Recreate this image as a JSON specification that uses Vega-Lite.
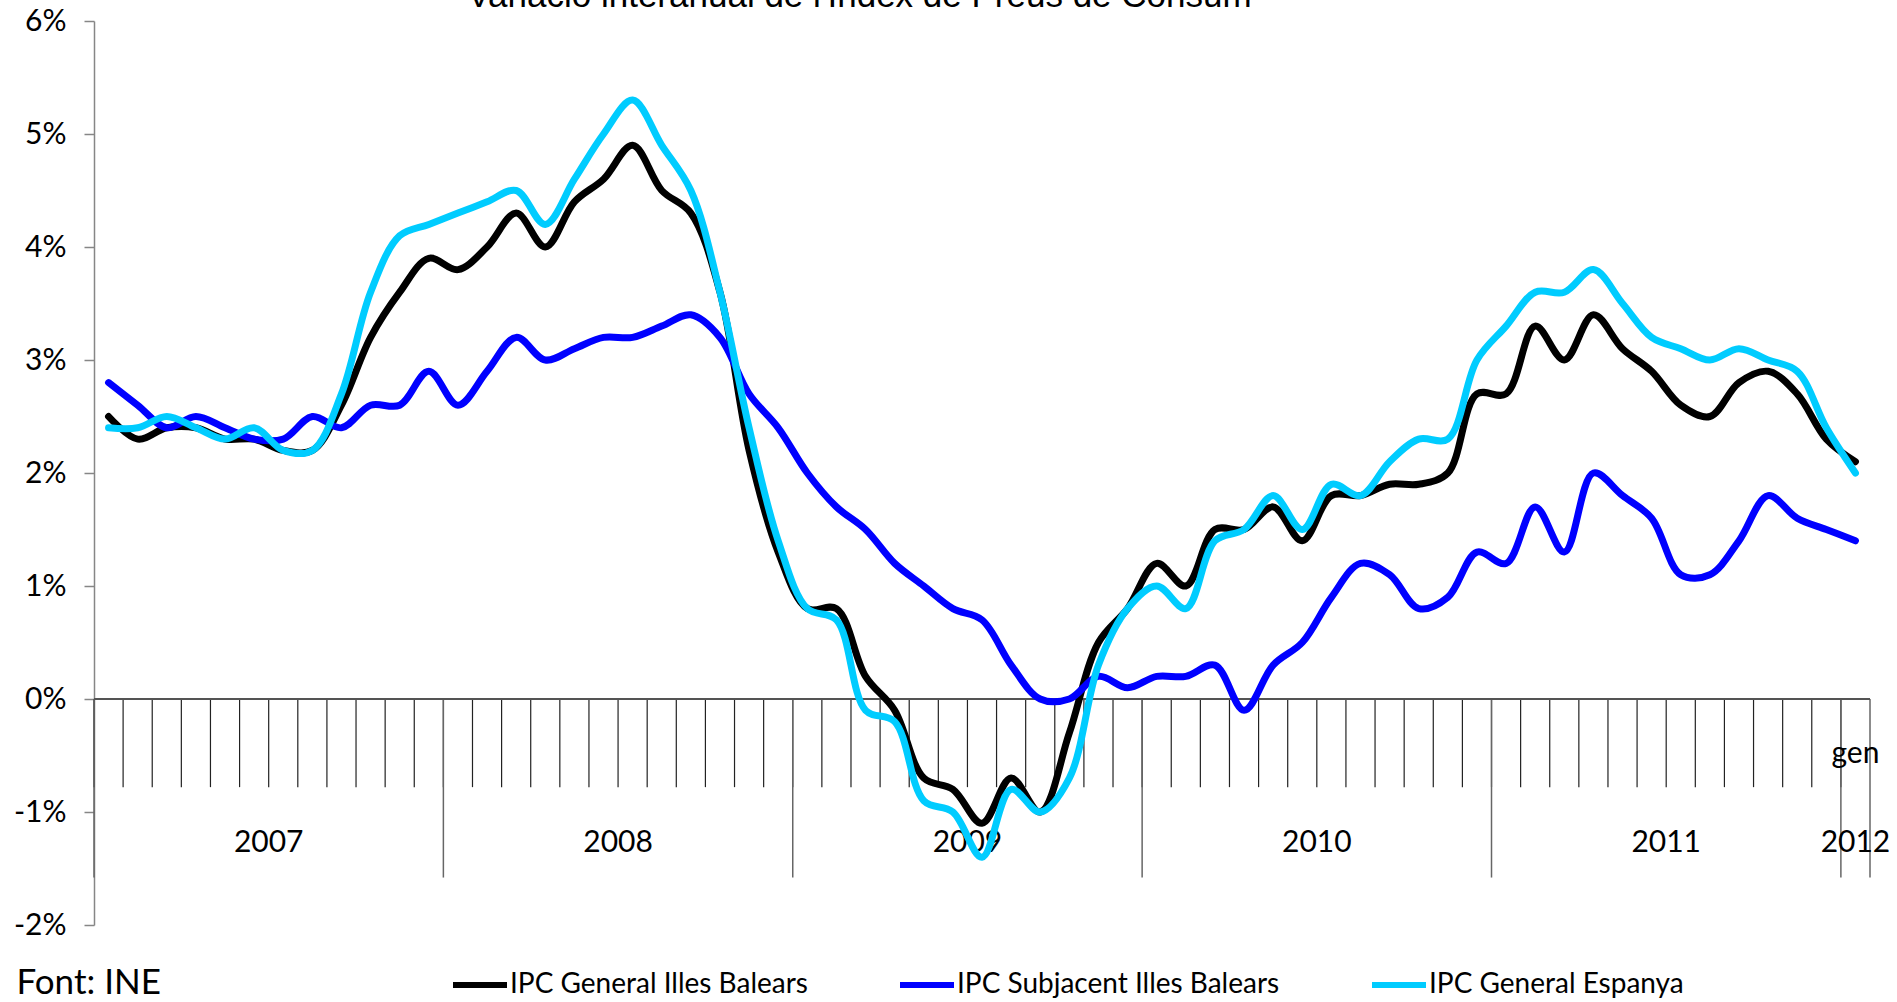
{
  "$schema": "https://vega.github.io/schema/vega-lite/v6.json",
  "width": 1776,
  "height": 904,
  "autosize": {"type": "none"},
  "padding": {"left": 94, "top": 21, "right": 27, "bottom": 77},
  "background": "white",
  "datasets": {
    "ipc": [
      {"m":"2007-01","s":"IPC General Illes Balears","v":2.5},
      {"m":"2007-02","s":"IPC General Illes Balears","v":2.3},
      {"m":"2007-03","s":"IPC General Illes Balears","v":2.4},
      {"m":"2007-04","s":"IPC General Illes Balears","v":2.4},
      {"m":"2007-05","s":"IPC General Illes Balears","v":2.3},
      {"m":"2007-06","s":"IPC General Illes Balears","v":2.3},
      {"m":"2007-07","s":"IPC General Illes Balears","v":2.2},
      {"m":"2007-08","s":"IPC General Illes Balears","v":2.2},
      {"m":"2007-09","s":"IPC General Illes Balears","v":2.6},
      {"m":"2007-10","s":"IPC General Illes Balears","v":3.2},
      {"m":"2007-11","s":"IPC General Illes Balears","v":3.6},
      {"m":"2007-12","s":"IPC General Illes Balears","v":3.9},
      {"m":"2008-01","s":"IPC General Illes Balears","v":3.8},
      {"m":"2008-02","s":"IPC General Illes Balears","v":4.0},
      {"m":"2008-03","s":"IPC General Illes Balears","v":4.3},
      {"m":"2008-04","s":"IPC General Illes Balears","v":4.0},
      {"m":"2008-05","s":"IPC General Illes Balears","v":4.4},
      {"m":"2008-06","s":"IPC General Illes Balears","v":4.6},
      {"m":"2008-07","s":"IPC General Illes Balears","v":4.9},
      {"m":"2008-08","s":"IPC General Illes Balears","v":4.5},
      {"m":"2008-09","s":"IPC General Illes Balears","v":4.3},
      {"m":"2008-10","s":"IPC General Illes Balears","v":3.6},
      {"m":"2008-11","s":"IPC General Illes Balears","v":2.2},
      {"m":"2008-12","s":"IPC General Illes Balears","v":1.3},
      {"m":"2009-01","s":"IPC General Illes Balears","v":0.8},
      {"m":"2009-02","s":"IPC General Illes Balears","v":0.8},
      {"m":"2009-03","s":"IPC General Illes Balears","v":0.2},
      {"m":"2009-04","s":"IPC General Illes Balears","v":-0.1},
      {"m":"2009-05","s":"IPC General Illes Balears","v":-0.7},
      {"m":"2009-06","s":"IPC General Illes Balears","v":-0.8},
      {"m":"2009-07","s":"IPC General Illes Balears","v":-1.1},
      {"m":"2009-08","s":"IPC General Illes Balears","v":-0.7},
      {"m":"2009-09","s":"IPC General Illes Balears","v":-1.0},
      {"m":"2009-10","s":"IPC General Illes Balears","v":-0.3},
      {"m":"2009-11","s":"IPC General Illes Balears","v":0.5},
      {"m":"2009-12","s":"IPC General Illes Balears","v":0.8},
      {"m":"2010-01","s":"IPC General Illes Balears","v":1.2},
      {"m":"2010-02","s":"IPC General Illes Balears","v":1.0},
      {"m":"2010-03","s":"IPC General Illes Balears","v":1.5},
      {"m":"2010-04","s":"IPC General Illes Balears","v":1.5},
      {"m":"2010-05","s":"IPC General Illes Balears","v":1.7},
      {"m":"2010-06","s":"IPC General Illes Balears","v":1.4},
      {"m":"2010-07","s":"IPC General Illes Balears","v":1.8},
      {"m":"2010-08","s":"IPC General Illes Balears","v":1.8},
      {"m":"2010-09","s":"IPC General Illes Balears","v":1.9},
      {"m":"2010-10","s":"IPC General Illes Balears","v":1.9},
      {"m":"2010-11","s":"IPC General Illes Balears","v":2.0},
      {"m":"2010-12","s":"IPC General Illes Balears","v":2.7},
      {"m":"2011-01","s":"IPC General Illes Balears","v":2.7},
      {"m":"2011-02","s":"IPC General Illes Balears","v":3.3},
      {"m":"2011-03","s":"IPC General Illes Balears","v":3.0},
      {"m":"2011-04","s":"IPC General Illes Balears","v":3.4},
      {"m":"2011-05","s":"IPC General Illes Balears","v":3.1},
      {"m":"2011-06","s":"IPC General Illes Balears","v":2.9},
      {"m":"2011-07","s":"IPC General Illes Balears","v":2.6},
      {"m":"2011-08","s":"IPC General Illes Balears","v":2.5},
      {"m":"2011-09","s":"IPC General Illes Balears","v":2.8},
      {"m":"2011-10","s":"IPC General Illes Balears","v":2.9},
      {"m":"2011-11","s":"IPC General Illes Balears","v":2.7},
      {"m":"2011-12","s":"IPC General Illes Balears","v":2.3},
      {"m":"2012-01","s":"IPC General Illes Balears","v":2.1},
      {"m":"2007-01","s":"IPC Subjacent Illes Balears","v":2.8},
      {"m":"2007-02","s":"IPC Subjacent Illes Balears","v":2.6},
      {"m":"2007-03","s":"IPC Subjacent Illes Balears","v":2.4},
      {"m":"2007-04","s":"IPC Subjacent Illes Balears","v":2.5},
      {"m":"2007-05","s":"IPC Subjacent Illes Balears","v":2.4},
      {"m":"2007-06","s":"IPC Subjacent Illes Balears","v":2.3},
      {"m":"2007-07","s":"IPC Subjacent Illes Balears","v":2.3},
      {"m":"2007-08","s":"IPC Subjacent Illes Balears","v":2.5},
      {"m":"2007-09","s":"IPC Subjacent Illes Balears","v":2.4},
      {"m":"2007-10","s":"IPC Subjacent Illes Balears","v":2.6},
      {"m":"2007-11","s":"IPC Subjacent Illes Balears","v":2.6},
      {"m":"2007-12","s":"IPC Subjacent Illes Balears","v":2.9},
      {"m":"2008-01","s":"IPC Subjacent Illes Balears","v":2.6},
      {"m":"2008-02","s":"IPC Subjacent Illes Balears","v":2.9},
      {"m":"2008-03","s":"IPC Subjacent Illes Balears","v":3.2},
      {"m":"2008-04","s":"IPC Subjacent Illes Balears","v":3.0},
      {"m":"2008-05","s":"IPC Subjacent Illes Balears","v":3.1},
      {"m":"2008-06","s":"IPC Subjacent Illes Balears","v":3.2},
      {"m":"2008-07","s":"IPC Subjacent Illes Balears","v":3.2},
      {"m":"2008-08","s":"IPC Subjacent Illes Balears","v":3.3},
      {"m":"2008-09","s":"IPC Subjacent Illes Balears","v":3.4},
      {"m":"2008-10","s":"IPC Subjacent Illes Balears","v":3.2},
      {"m":"2008-11","s":"IPC Subjacent Illes Balears","v":2.7},
      {"m":"2008-12","s":"IPC Subjacent Illes Balears","v":2.4},
      {"m":"2009-01","s":"IPC Subjacent Illes Balears","v":2.0},
      {"m":"2009-02","s":"IPC Subjacent Illes Balears","v":1.7},
      {"m":"2009-03","s":"IPC Subjacent Illes Balears","v":1.5},
      {"m":"2009-04","s":"IPC Subjacent Illes Balears","v":1.2},
      {"m":"2009-05","s":"IPC Subjacent Illes Balears","v":1.0},
      {"m":"2009-06","s":"IPC Subjacent Illes Balears","v":0.8},
      {"m":"2009-07","s":"IPC Subjacent Illes Balears","v":0.7},
      {"m":"2009-08","s":"IPC Subjacent Illes Balears","v":0.3},
      {"m":"2009-09","s":"IPC Subjacent Illes Balears","v":0.0},
      {"m":"2009-10","s":"IPC Subjacent Illes Balears","v":0.0},
      {"m":"2009-11","s":"IPC Subjacent Illes Balears","v":0.2},
      {"m":"2009-12","s":"IPC Subjacent Illes Balears","v":0.1},
      {"m":"2010-01","s":"IPC Subjacent Illes Balears","v":0.2},
      {"m":"2010-02","s":"IPC Subjacent Illes Balears","v":0.2},
      {"m":"2010-03","s":"IPC Subjacent Illes Balears","v":0.3},
      {"m":"2010-04","s":"IPC Subjacent Illes Balears","v":-0.1},
      {"m":"2010-05","s":"IPC Subjacent Illes Balears","v":0.3},
      {"m":"2010-06","s":"IPC Subjacent Illes Balears","v":0.5},
      {"m":"2010-07","s":"IPC Subjacent Illes Balears","v":0.9},
      {"m":"2010-08","s":"IPC Subjacent Illes Balears","v":1.2},
      {"m":"2010-09","s":"IPC Subjacent Illes Balears","v":1.1},
      {"m":"2010-10","s":"IPC Subjacent Illes Balears","v":0.8},
      {"m":"2010-11","s":"IPC Subjacent Illes Balears","v":0.9},
      {"m":"2010-12","s":"IPC Subjacent Illes Balears","v":1.3},
      {"m":"2011-01","s":"IPC Subjacent Illes Balears","v":1.2},
      {"m":"2011-02","s":"IPC Subjacent Illes Balears","v":1.7},
      {"m":"2011-03","s":"IPC Subjacent Illes Balears","v":1.3},
      {"m":"2011-04","s":"IPC Subjacent Illes Balears","v":2.0},
      {"m":"2011-05","s":"IPC Subjacent Illes Balears","v":1.8},
      {"m":"2011-06","s":"IPC Subjacent Illes Balears","v":1.6},
      {"m":"2011-07","s":"IPC Subjacent Illes Balears","v":1.1},
      {"m":"2011-08","s":"IPC Subjacent Illes Balears","v":1.1},
      {"m":"2011-09","s":"IPC Subjacent Illes Balears","v":1.4},
      {"m":"2011-10","s":"IPC Subjacent Illes Balears","v":1.8},
      {"m":"2011-11","s":"IPC Subjacent Illes Balears","v":1.6},
      {"m":"2011-12","s":"IPC Subjacent Illes Balears","v":1.5},
      {"m":"2012-01","s":"IPC Subjacent Illes Balears","v":1.4},
      {"m":"2007-01","s":"IPC General Espanya","v":2.4},
      {"m":"2007-02","s":"IPC General Espanya","v":2.4},
      {"m":"2007-03","s":"IPC General Espanya","v":2.5},
      {"m":"2007-04","s":"IPC General Espanya","v":2.4},
      {"m":"2007-05","s":"IPC General Espanya","v":2.3},
      {"m":"2007-06","s":"IPC General Espanya","v":2.4},
      {"m":"2007-07","s":"IPC General Espanya","v":2.2},
      {"m":"2007-08","s":"IPC General Espanya","v":2.2},
      {"m":"2007-09","s":"IPC General Espanya","v":2.7},
      {"m":"2007-10","s":"IPC General Espanya","v":3.6},
      {"m":"2007-11","s":"IPC General Espanya","v":4.1},
      {"m":"2007-12","s":"IPC General Espanya","v":4.2},
      {"m":"2008-01","s":"IPC General Espanya","v":4.3},
      {"m":"2008-02","s":"IPC General Espanya","v":4.4},
      {"m":"2008-03","s":"IPC General Espanya","v":4.5},
      {"m":"2008-04","s":"IPC General Espanya","v":4.2},
      {"m":"2008-05","s":"IPC General Espanya","v":4.6},
      {"m":"2008-06","s":"IPC General Espanya","v":5.0},
      {"m":"2008-07","s":"IPC General Espanya","v":5.3},
      {"m":"2008-08","s":"IPC General Espanya","v":4.9},
      {"m":"2008-09","s":"IPC General Espanya","v":4.5},
      {"m":"2008-10","s":"IPC General Espanya","v":3.6},
      {"m":"2008-11","s":"IPC General Espanya","v":2.4},
      {"m":"2008-12","s":"IPC General Espanya","v":1.4},
      {"m":"2009-01","s":"IPC General Espanya","v":0.8},
      {"m":"2009-02","s":"IPC General Espanya","v":0.7},
      {"m":"2009-03","s":"IPC General Espanya","v":-0.1},
      {"m":"2009-04","s":"IPC General Espanya","v":-0.2},
      {"m":"2009-05","s":"IPC General Espanya","v":-0.9},
      {"m":"2009-06","s":"IPC General Espanya","v":-1.0},
      {"m":"2009-07","s":"IPC General Espanya","v":-1.4},
      {"m":"2009-08","s":"IPC General Espanya","v":-0.8},
      {"m":"2009-09","s":"IPC General Espanya","v":-1.0},
      {"m":"2009-10","s":"IPC General Espanya","v":-0.7},
      {"m":"2009-11","s":"IPC General Espanya","v":0.3},
      {"m":"2009-12","s":"IPC General Espanya","v":0.8},
      {"m":"2010-01","s":"IPC General Espanya","v":1.0},
      {"m":"2010-02","s":"IPC General Espanya","v":0.8},
      {"m":"2010-03","s":"IPC General Espanya","v":1.4},
      {"m":"2010-04","s":"IPC General Espanya","v":1.5},
      {"m":"2010-05","s":"IPC General Espanya","v":1.8},
      {"m":"2010-06","s":"IPC General Espanya","v":1.5},
      {"m":"2010-07","s":"IPC General Espanya","v":1.9},
      {"m":"2010-08","s":"IPC General Espanya","v":1.8},
      {"m":"2010-09","s":"IPC General Espanya","v":2.1},
      {"m":"2010-10","s":"IPC General Espanya","v":2.3},
      {"m":"2010-11","s":"IPC General Espanya","v":2.3},
      {"m":"2010-12","s":"IPC General Espanya","v":3.0},
      {"m":"2011-01","s":"IPC General Espanya","v":3.3},
      {"m":"2011-02","s":"IPC General Espanya","v":3.6},
      {"m":"2011-03","s":"IPC General Espanya","v":3.6},
      {"m":"2011-04","s":"IPC General Espanya","v":3.8},
      {"m":"2011-05","s":"IPC General Espanya","v":3.5},
      {"m":"2011-06","s":"IPC General Espanya","v":3.2},
      {"m":"2011-07","s":"IPC General Espanya","v":3.1},
      {"m":"2011-08","s":"IPC General Espanya","v":3.0},
      {"m":"2011-09","s":"IPC General Espanya","v":3.1},
      {"m":"2011-10","s":"IPC General Espanya","v":3.0},
      {"m":"2011-11","s":"IPC General Espanya","v":2.9},
      {"m":"2011-12","s":"IPC General Espanya","v":2.4},
      {"m":"2012-01","s":"IPC General Espanya","v":2.0}
    ],
    "mesos": [
      {"m":"2007-01","any":"2007","mes":"gen"},{"m":"2007-02","any":"2007","mes":"feb"},{"m":"2007-03","any":"2007","mes":"mar"},{"m":"2007-04","any":"2007","mes":"abr"},{"m":"2007-05","any":"2007","mes":"mai"},{"m":"2007-06","any":"2007","mes":"jun"},{"m":"2007-07","any":"2007","mes":"jul"},{"m":"2007-08","any":"2007","mes":"ago"},{"m":"2007-09","any":"2007","mes":"set"},{"m":"2007-10","any":"2007","mes":"oct"},{"m":"2007-11","any":"2007","mes":"nov"},{"m":"2007-12","any":"2007","mes":"des"},
      {"m":"2008-01","any":"2008","mes":"gen"},{"m":"2008-02","any":"2008","mes":"feb"},{"m":"2008-03","any":"2008","mes":"mar"},{"m":"2008-04","any":"2008","mes":"abr"},{"m":"2008-05","any":"2008","mes":"mai"},{"m":"2008-06","any":"2008","mes":"jun"},{"m":"2008-07","any":"2008","mes":"jul"},{"m":"2008-08","any":"2008","mes":"ago"},{"m":"2008-09","any":"2008","mes":"set"},{"m":"2008-10","any":"2008","mes":"oct"},{"m":"2008-11","any":"2008","mes":"nov"},{"m":"2008-12","any":"2008","mes":"des"},
      {"m":"2009-01","any":"2009","mes":"gen"},{"m":"2009-02","any":"2009","mes":"feb"},{"m":"2009-03","any":"2009","mes":"mar"},{"m":"2009-04","any":"2009","mes":"abr"},{"m":"2009-05","any":"2009","mes":"mai"},{"m":"2009-06","any":"2009","mes":"jun"},{"m":"2009-07","any":"2009","mes":"jul"},{"m":"2009-08","any":"2009","mes":"ago"},{"m":"2009-09","any":"2009","mes":"set"},{"m":"2009-10","any":"2009","mes":"oct"},{"m":"2009-11","any":"2009","mes":"nov"},{"m":"2009-12","any":"2009","mes":"des"},
      {"m":"2010-01","any":"2010","mes":"gen"},{"m":"2010-02","any":"2010","mes":"feb"},{"m":"2010-03","any":"2010","mes":"mar"},{"m":"2010-04","any":"2010","mes":"abr"},{"m":"2010-05","any":"2010","mes":"mai"},{"m":"2010-06","any":"2010","mes":"jun"},{"m":"2010-07","any":"2010","mes":"jul"},{"m":"2010-08","any":"2010","mes":"ago"},{"m":"2010-09","any":"2010","mes":"set"},{"m":"2010-10","any":"2010","mes":"oct"},{"m":"2010-11","any":"2010","mes":"nov"},{"m":"2010-12","any":"2010","mes":"des"},
      {"m":"2011-01","any":"2011","mes":"gen"},{"m":"2011-02","any":"2011","mes":"feb"},{"m":"2011-03","any":"2011","mes":"mar"},{"m":"2011-04","any":"2011","mes":"abr"},{"m":"2011-05","any":"2011","mes":"mai"},{"m":"2011-06","any":"2011","mes":"jun"},{"m":"2011-07","any":"2011","mes":"jul"},{"m":"2011-08","any":"2011","mes":"ago"},{"m":"2011-09","any":"2011","mes":"set"},{"m":"2011-10","any":"2011","mes":"oct"},{"m":"2011-11","any":"2011","mes":"nov"},{"m":"2011-12","any":"2011","mes":"des"},
      {"m":"2012-01","any":"2012","mes":"gen"}
    ]
  },
  "layer": [
    {
      "data": {"name": "mesos"},
      "mark": {"type": "rule", "color": "#222222", "strokeWidth": 1.2},
      "encoding": {
        "x": {"field": "m", "type": "ordinal", "bandPosition": 0, "title": "Variació interanual de l'Índex de Preus de Consum"},
        "y": {"datum": 0},
        "y2": {"datum": -0.78}
      }
    },
    {
      "data": {"name": "mesos"},
      "transform": [{"filter": "slice(datum.m, 5) == '01'"}],
      "mark": {"type": "rule", "color": "#666666", "strokeWidth": 1.5},
      "encoding": {
        "x": {"field": "m", "type": "ordinal", "bandPosition": 0, "title": "Variació interanual de l'Índex de Preus de Consum"},
        "y": {"datum": 0},
        "y2": {"datum": -1.58}
      }
    },
    {
      "data": {"name": "mesos"},
      "transform": [{"filter": "datum.m == '2012-01'"}],
      "mark": {"type": "rule", "color": "#666666", "strokeWidth": 1.5},
      "encoding": {
        "x": {"field": "m", "type": "ordinal", "bandPosition": 1, "title": "Variació interanual de l'Índex de Preus de Consum"},
        "y": {"datum": 0},
        "y2": {"datum": -1.58}
      }
    },
    {
      "data": {"name": "mesos"},
      "mark": {"type": "rule", "color": "#555555", "strokeWidth": 1.5},
      "encoding": {
        "y": {"datum": 0}
      }
    },
    {
      "data": {"name": "mesos"},
      "transform": [{"filter": "slice(datum.m, 5) == '07'"}],
      "mark": {"type": "text", "font": "Lato", "fontSize": 30, "color": "black", "align": "center", "baseline": "alphabetic"},
      "encoding": {
        "x": {"field": "m", "type": "ordinal", "bandPosition": 0, "title": "Variació interanual de l'Índex de Preus de Consum"},
        "y": {"datum": -1.355},
        "text": {"field": "any"}
      }
    },
    {
      "data": {"name": "mesos"},
      "transform": [{"filter": "datum.m == '2012-01'"}],
      "mark": {"type": "text", "font": "Lato", "fontSize": 30, "color": "black", "align": "center", "baseline": "alphabetic"},
      "encoding": {
        "x": {"field": "m", "type": "ordinal", "bandPosition": 0.5, "title": "Variació interanual de l'Índex de Preus de Consum"},
        "y": {"datum": -1.355},
        "text": {"field": "any"}
      }
    },
    {
      "data": {"name": "mesos"},
      "transform": [{"filter": "datum.m == '2012-01'"}],
      "mark": {"type": "text", "font": "Lato", "fontSize": 30, "color": "black", "align": "center", "baseline": "alphabetic"},
      "encoding": {
        "x": {"field": "m", "type": "ordinal", "bandPosition": 0.5, "title": "Variació interanual de l'Índex de Preus de Consum"},
        "y": {"datum": -0.57},
        "text": {"field": "mes"}
      }
    },
    {
      "data": {"name": "ipc"},
      "mark": {"type": "line", "interpolate": "catmull-rom", "strokeWidth": 7, "strokeCap": "round", "strokeJoin": "round"},
      "encoding": {
        "x": {
          "field": "m", "type": "ordinal",
          "title": "Variació interanual de l'Índex de Preus de Consum",
          "scale": {"paddingInner": 0, "paddingOuter": 0}
        },
        "y": {
          "field": "v", "type": "quantitative",
          "scale": {"domain": [-2, 6], "nice": false, "zero": false},
          "axis": {
            "title": "Font: INE",
            "titleAngle": 0,
            "titleX": -78,
            "titleY": 961,
            "titleAlign": "left",
            "titleBaseline": "middle",
            "titleFont": "Lato",
            "titleFontSize": 35,
            "titleFontWeight": "normal",
            "titleColor": "black",
            "values": [-2, -1, 0, 1, 2, 3, 4, 5, 6],
            "labelExpr": "datum.value + '%'",
            "grid": false, "domainColor": "#868686", "domainWidth": 1.5,
            "tickColor": "#868686", "tickWidth": 1.5, "tickSize": 10,
            "labelPadding": 18, "labelFont": "Lato", "labelFontSize": 30, "labelColor": "black"
          }
        },
        "color": {
          "field": "s", "type": "nominal",
          "scale": {"domain": ["IPC General Illes Balears", "IPC Subjacent Illes Balears", "IPC General Espanya"], "range": ["#000000", "#0000FF", "#00CCFF"]},
          "legend": {
            "title": null,
            "orient": "none",
            "legendX": 356,
            "legendY": 934,
            "direction": "horizontal",
            "symbolType": "stroke",
            "symbolSize": 2916,
            "symbolStrokeWidth": 6,
            "labelFont": "Lato",
            "labelFontSize": 28,
            "labelColor": "black",
            "labelLimit": 500,
            "labelOffset": 0,
            "columnPadding": 80,
            "padding": 0
          }
        }
      }
    }
  ],
  "config": {
    "view": {"stroke": null},
    "scale": {"bandPaddingInner": 0, "bandPaddingOuter": 0},
    "axisX": {
      "orient": "top",
      "labels": false, "ticks": false, "domain": false, "grid": false,
      "titleX": 765,
      "titleY": -15,
      "titleAlign": "center",
      "titleBaseline": "alphabetic",
      "titleFont": "Liberation Sans",
      "titleFontSize": 35,
      "titleFontWeight": "normal",
      "titleColor": "black"
    }
  }
}
